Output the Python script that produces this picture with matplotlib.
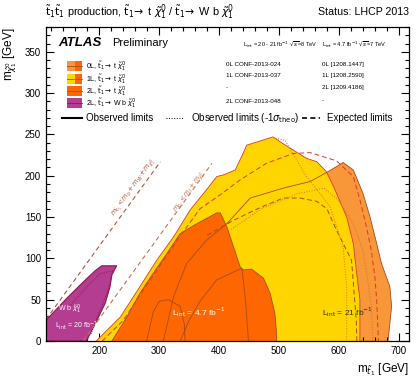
import numpy as np
import matplotlib
matplotlib.use('Agg')
import matplotlib.pyplot as plt
from matplotlib.patches import Polygon, Rectangle
from matplotlib.ticker import MultipleLocator

plt.rcParams['font.family'] = ['Liberation Sans', 'DejaVu Sans']
plt.rcParams['mathtext.fontset'] = 'dejavusans'

# excluded regions (m_stop, m_neutralino) in GeV
zero_lep_x = [307, 324, 346, 379, 413, 452, 507, 552, 582, 607, 624, 640, 652, 663, 671, 685, 688, 685, 682]
zero_lep_y = [0, 54, 94, 122, 142, 173, 185, 193, 205, 216, 207, 179, 150, 118, 94, 66, 42, 21, 0]

one_lep_x = [195, 199, 235, 268, 296, 324, 352, 379, 396, 407, 427, 440, 446, 490, 502, 546, 563, 579, 591, 613, 624, 629, 635, 635]
one_lep_y = [0, 3, 29, 66, 98, 126, 159, 183, 199, 201, 207, 227, 237, 247, 241, 221, 217, 205, 187, 150, 118, 86, 50, 0]

two_lep_x = [221, 246, 268, 290, 313, 335, 363, 396, 402, 413, 424, 435, 440, 454, 474, 485, 493, 496, 496]
two_lep_y = [0, 29, 58, 82, 106, 130, 142, 155, 155, 138, 114, 90, 86, 87, 76, 58, 34, 9, 0]

wb_x = [111, 111, 146, 174, 193, 204, 229, 221, 218, 210, 196, 182, 179]
wb_y = [0, 25, 52, 72, 85, 91, 91, 80, 66, 46, 25, 5, 0]

# extra limit curves
exp0_x = [205, 240, 270, 300, 330, 368, 402, 435, 479, 524, 552, 596, 624, 635, 646, 654, 660, 663, 666]
exp0_y = [0, 25, 58, 90, 122, 160, 177, 195, 215, 227, 228, 218, 199, 171, 138, 110, 78, 50, 0]
obs0_m1_x = [420, 470, 530, 575, 600, 625, 640, 648, 654, 657]
obs0_m1_y = [135, 160, 178, 185, 170, 140, 110, 75, 42, 0]
exp1_x = [380, 424, 470, 507, 535, 563, 580, 596, 621, 629, 630]
exp1_y = [128, 146, 162, 173, 173, 169, 160, 134, 98, 25, 0]
obs1_m1_x = [490, 510, 545, 585, 607, 613, 613]
obs1_m1_y = [246, 243, 200, 163, 114, 66, 0]
obs7_x = [335, 350, 368, 396, 438, 444, 449]
obs7_y = [0, 25, 48, 74, 88, 50, 0]
obs7b_x = [279, 290, 300, 315, 335, 342, 343]
obs7b_y = [0, 35, 48, 50, 42, 20, 0]
wb_in_x = [150, 180, 200, 222, 214, 200, 186]
wb_in_y = [42, 66, 81, 85, 60, 35, 8]

C0 = '#F8963A'
C1 = '#FFD500'
C2 = '#FD6600'
CW = '#B43C91'
LINE = '#A64B1E'
RED = '#D63A2E'

fig = plt.figure(figsize=(4.16, 3.86), dpi=100)
ax = fig.add_axes([46/416, 45/386, 363/416, 314/386])
ax.set_xlim(111, 717)
ax.set_ylim(0, 380)

ax.add_patch(Polygon(np.c_[zero_lep_x, zero_lep_y], closed=True, fc=C0, ec='none', zorder=1))
ax.add_patch(Polygon(np.c_[one_lep_x, one_lep_y], closed=True, fc=C1, ec='none', zorder=2))
ax.add_patch(Polygon(np.c_[two_lep_x, two_lep_y], closed=True, fc=C2, ec='none', zorder=3))
ax.add_patch(Polygon(np.c_[wb_x, wb_y], closed=True, fc=CW, ec='#8B1A4A', lw=0.8, zorder=3))

# observed contours
ax.plot(zero_lep_x, zero_lep_y, color=LINE, lw=0.6, zorder=5)
ax.plot(one_lep_x, one_lep_y, color=RED, lw=0.6, zorder=5)
ax.plot(two_lep_x, two_lep_y, color=LINE, lw=0.6, zorder=5)
ax.plot(obs7_x, obs7_y, color=LINE, lw=0.6, zorder=5)
ax.plot(obs7b_x, obs7b_y, color=LINE, lw=0.6, zorder=5)
# expected / -1 sigma
ax.plot(exp0_x, exp0_y, color=RED, lw=0.7, ls=(0, (5, 3)), zorder=5)
ax.plot(exp1_x, exp1_y, color=LINE, lw=0.7, ls=(0, (5, 3)), zorder=5)
ax.plot(obs0_m1_x, obs0_m1_y, color='#D9701E', lw=0.7, ls=':', zorder=5)
ax.plot(obs1_m1_x, obs1_m1_y, color='#D9701E', lw=0.7, ls=':', zorder=5)
ax.plot(wb_in_x, wb_in_y, color='#7A1040', lw=0.6, ls=':', zorder=5)

# kinematic limits
kx1 = np.array([111, 302])
kx2 = np.array([173, 388])
ax.plot(kx1, kx1 - 85, color='#B0503C', lw=0.8, ls=(0, (4, 3)), zorder=4)
ax.plot(kx2, kx2 - 173, color='#C87050', lw=0.8, ls=(0, (4, 3)), zorder=4)
p0 = ax.transData.transform((0, 0))
p1 = ax.transData.transform((100, 100))
ang = np.degrees(np.arctan2(p1[1] - p0[1], p1[0] - p0[0]))
ax.text(258, 186, r'$m_{\tilde{t}_1} < m_b + m_W + m_{\tilde{\chi}^0_1}$', rotation=ang,
        ha='center', va='center', fontsize=4.8, color='#B0503C', zorder=6)
ax.text(350, 180, r'$m_{\tilde{t}_1} < m_t + m_{\tilde{\chi}^0_1}$', rotation=ang,
        ha='center', va='center', fontsize=4.8, color='#C87050', zorder=6)

# region labels
ax.text(365, 35, r'L$_{\rm int}$ = 4.7 fb$^{-1}$', color='white', fontsize=6, ha='center', va='center', zorder=6)
ax.text(615, 35, r'L$_{\rm int}$ = 21 fb$^{-1}$', color='#333300', fontsize=6, ha='center', va='center', zorder=6)
ax.text(150, 38, r'W b $\tilde{\chi}^0_1$', color='white', fontsize=5, ha='center', va='center', zorder=6)
ax.text(162, 19, r'L$_{\rm int}$ = 20 fb$^{-1}$', color='white', fontsize=5, ha='center', va='center', zorder=6)

# axes styling
ax.xaxis.set_major_locator(MultipleLocator(100))
ax.xaxis.set_minor_locator(MultipleLocator(20))
ax.yaxis.set_major_locator(MultipleLocator(50))
ax.yaxis.set_minor_locator(MultipleLocator(10))
ax.tick_params(which='both', direction='in', top=True, right=True, labelsize=7, width=0.8)
ax.tick_params(which='major', length=6)
ax.tick_params(which='minor', length=3)
for s in ax.spines.values():
    s.set_linewidth(0.9)
    s.set_zorder(10)
ax.set_xlabel(r'm$_{\tilde{t}_1}$ [GeV]', fontsize=8.5, loc='right')
ax.set_ylabel(r'm$_{\tilde{\chi}^0_1}$ [GeV]', fontsize=8.5, loc='top')

# header
fig.text(45/416, 1 - 12/386, r'$\tilde{\rm t}_1\tilde{\rm t}_1$ production, $\tilde{\rm t}_1\!\rightarrow$ t $\tilde{\chi}^0_1$ / $\tilde{\rm t}_1\!\rightarrow$ W b $\tilde{\chi}^0_1$',
         fontsize=7.8, ha='left', va='center')
fig.text(409/416, 1 - 12/386, 'Status: LHCP 2013', fontsize=7.7, ha='right', va='center')

T = ax.transAxes
ax.text(0.033, 0.949, 'ATLAS', transform=T, fontsize=9.5, fontweight='bold', style='italic', va='center', zorder=11)
ax.text(0.182, 0.949, 'Preliminary', transform=T, fontsize=8, va='center', zorder=11)

# legend swatches
rows_y = [0.876, 0.834, 0.796, 0.758]
left_cols = [C0, C1, C2, CW]
right_cols = [C2, C2, C2, CW]
line_cols = [LINE, RED, LINE, '#8B1A4A']
labels = [r'0L, $\tilde{\rm t}_1\!\rightarrow$ t $\tilde{\chi}^0_1$',
          r'1L, $\tilde{\rm t}_1\!\rightarrow$ t $\tilde{\chi}^0_1$',
          r'2L, $\tilde{\rm t}_1\!\rightarrow$ t $\tilde{\chi}^0_1$',
          r'2L, $\tilde{\rm t}_1\!\rightarrow$ W b $\tilde{\chi}^0_1$']
for yy, lc, rc, ln, lab in zip(rows_y, left_cols, right_cols, line_cols, labels):
    ax.add_patch(Rectangle((0.058, yy - 0.015), 0.021, 0.030, transform=T, fc=lc, ec='none', zorder=11))
    ax.add_patch(Rectangle((0.079, yy - 0.015), 0.021, 0.030, transform=T, fc=rc, ec='none', zorder=11))
    ax.plot([0.058, 0.100], [yy, yy], transform=T, color=ln, lw=0.6, zorder=12)
    ax.text(0.110, yy, lab, transform=T, fontsize=5, va='center', zorder=11)

ax.plot([0.044, 0.099], [0.710, 0.710], transform=T, color='black', lw=1.5, zorder=11)
ax.text(0.110, 0.710, 'Observed limits', transform=T, fontsize=7, va='center', zorder=11)
ax.plot([0.331, 0.377], [0.710, 0.710], transform=T, color='black', lw=0.7, ls=':', zorder=11)
ax.text(0.399, 0.710, r'Observed limits (-1$\sigma_{\rm theo}$)', transform=T, fontsize=7, va='center', zorder=11)
ax.plot([0.705, 0.755], [0.710, 0.710], transform=T, color='black', lw=1.2, ls=(0, (3, 2)), zorder=11)
ax.text(0.774, 0.710, 'Expected limits', transform=T, fontsize=7, va='center', zorder=11)

ax.text(0.543, 0.943, r'L$_{\rm int}$ = 20 - 21 fb$^{-1}$ $\sqrt{s}$=8 TeV', transform=T, fontsize=4.1, va='center', zorder=11)
ax.text(0.760, 0.943, r'L$_{\rm int}$ = 4.7 fb$^{-1}$ $\sqrt{s}$=7 TeV', transform=T, fontsize=4.1, va='center', zorder=11)
refs8 = ['0L CONF-2013-024', '1L CONF-2013-037', '-', '2L CONF-2013-048']
refs7 = ['0L [1208.1447]', '1L [1208.2590]', '2L [1209.4186]', '-']
for yy, r8, r7 in zip([0.879, 0.844, 0.806, 0.764], refs8, refs7):
    ax.text(0.496, yy, r8, transform=T, fontsize=4.5, va='center', zorder=11)
    ax.text(0.760, yy, r7, transform=T, fontsize=4.5, va='center', zorder=11)

fig.savefig('out.png', dpi=100)
